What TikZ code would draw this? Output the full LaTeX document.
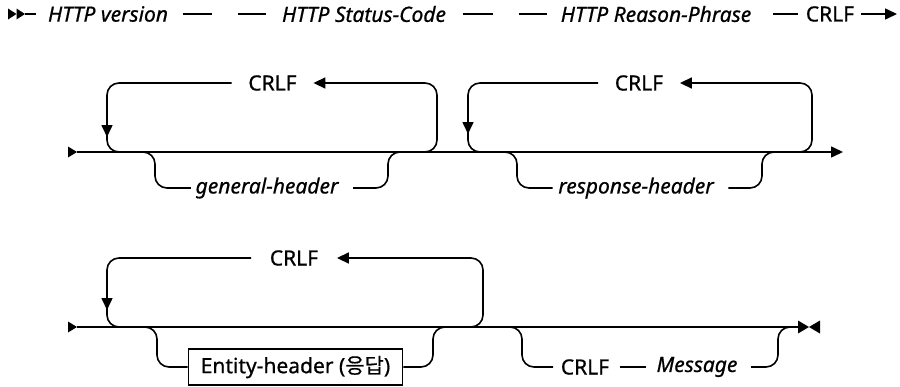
\documentclass[tikz,border=0pt]{standalone}
\usepackage{fontspec}
\setmainfont{Noto Sans}[FakeBold=0.7]
\newfontfamily\krfont{Noto Sans CJK KR}[FakeBold=0.5]
\usetikzlibrary{arrows.meta}
\begin{document}
\begin{tikzpicture}[x=1pt,y=-1pt,
  line width=1.6pt,
  txt/.style={font=\fontsize{21}{24}\selectfont, inner sep=0pt, anchor=center},
  nt/.style={txt, font=\fontsize{21}{24}\selectfont\itshape},
  rc/.style={rounded corners=12pt},
  tip/.style={-{Triangle[length=12pt,width=11pt]}},
  boxed/.style={txt, draw, line width=1.6pt, minimum width=214pt, minimum height=36pt}
]
\useasboundingbox (0,0) rectangle (900,386);

% ---------- Row 1 ----------
\fill (8,8.5) -- (16.5,14) -- (8,19.5) -- cycle;
\fill (16.5,8.5) -- (25,14) -- (16.5,19.5) -- cycle;
\coordinate (r1s) at (25,14);
\coordinate (r1a) at (36,14);
\draw (r1s) -- (r1a);
\node[nt] (hv) at (108,14) {HTTP version};
\coordinate (d1a) at (183,14); \coordinate (d1b) at (212,14);
\draw (d1a) -- (d1b);
\coordinate (d2a) at (238,14); \coordinate (d2b) at (266,14);
\draw (d2a) -- (d2b);
\node[nt] (hs) at (364,14) {HTTP Status-Code};
\coordinate (d3a) at (463,14); \coordinate (d3b) at (493,14);
\draw (d3a) -- (d3b);
\coordinate (d4a) at (519,14); \coordinate (d4b) at (547,14);
\draw (d4a) -- (d4b);
\node[nt] (hr) at (656,14) {HTTP Reason-Phrase};
\coordinate (d5a) at (773,14); \coordinate (d5b) at (798,14);
\draw (d5a) -- (d5b);
\node[txt] (cr0) at (830,14) {CRLF};
\coordinate (r1e) at (897,14);
\draw[tip] ([xshift=6pt]cr0.east) -- (r1e);

% ---------- Row 2 ----------
\fill (68,146.5) -- (77,152) -- (68,157.5) -- cycle;
\coordinate (r2s) at (77,152);
\coordinate (r2e) at (843,152);
\draw[tip] (r2s) -- (r2e);
% loop 1
\node[txt, inner xsep=16pt] (c1) at (272.5,83) {CRLF};
\coordinate (l1r) at (437,83);
\coordinate (l1l) at (107,83);
\draw[rc] (420,152) -- (437,152) -- (l1r) -- (340,83);
\draw[tip] (340,83) -- (c1.east);
\draw[rc] (c1.west) -- (l1l) -- (107,152) -- (125,152);
\draw[tip] (107,118) -- (107,137);
% branch general-header
\node[nt] (gh) at (267,188) {general-header};
\draw[rc] (140,152) -- (155,152) -- (155,188) -- ([xshift=-4pt]gh.west);
\draw[rc] ([xshift=14pt]gh.east) -- (388,188) -- (388,152) -- (403,152);
% loop 2
\node[txt, inner xsep=16pt] (c2) at (639,83) {CRLF};
\coordinate (l2r) at (812,83);
\coordinate (l2l) at (468,83);
\draw[rc] (795,152) -- (812,152) -- (l2r) -- (710,83);
\draw[tip] (710,83) -- (c2.east);
\draw[rc] (c2.west) -- (l2l) -- (468,152) -- (485,152);
\draw[tip] (468,115) -- (468,134);
% branch response-header
\node[nt] (rh) at (636,188) {response-header};
\draw[rc] (502,152) -- (517,152) -- (517,188) -- ([xshift=-5pt]rh.west);
\draw[rc] ([xshift=14pt]rh.east) -- (762,188) -- (762,152) -- (777,152);

% ---------- Row 3 ----------
\fill (68,321.5) -- (77,327) -- (68,332.5) -- cycle;
\coordinate (r3s) at (77,327);
\coordinate (r3e) at (798,327);
\draw (r3s) -- (r3e);
\fill (798,320.5) -- (809,327) -- (798,333.5) -- cycle;
\fill (820,320.5) -- (809,327) -- (820,333.5) -- cycle;
% loop 3
\node[txt, inner xsep=18pt] (c3) at (294,258) {CRLF};
\coordinate (l3r) at (483,258);
\coordinate (l3l) at (107,258);
\draw[rc] (465,327) -- (483,327) -- (l3r) -- (360,258);
\draw[tip] (360,258) -- (c3.east);
\draw[rc] (c3.west) -- (l3l) -- (107,327) -- (125,327);
\draw[tip] (107,290) -- (107,310);
% branch entity-header
\node[boxed] (eh) at (295.5,367) {Entity-header ({\krfont 응답})};
\draw[rc] (142,327) -- (157,327) -- (157,367) -- (eh.west);
\draw[rc] (eh.east) -- (433,367) -- (433,327) -- (448,327);
% branch CRLF Message
\node[txt] (c4) at (585,367) {CRLF};
\node[nt] (msg) at (697,367) {Message};
\draw[rc] (507,327) -- (522,327) -- (522,367) -- ([xshift=-7pt]c4.west);
\draw ([xshift=10pt]c4.east) -- ([xshift=-10pt]msg.west);
\draw[rc] ([xshift=13pt]msg.east) -- (778,367) -- (778,327) -- (793,327);
\end{tikzpicture}
\end{document}
